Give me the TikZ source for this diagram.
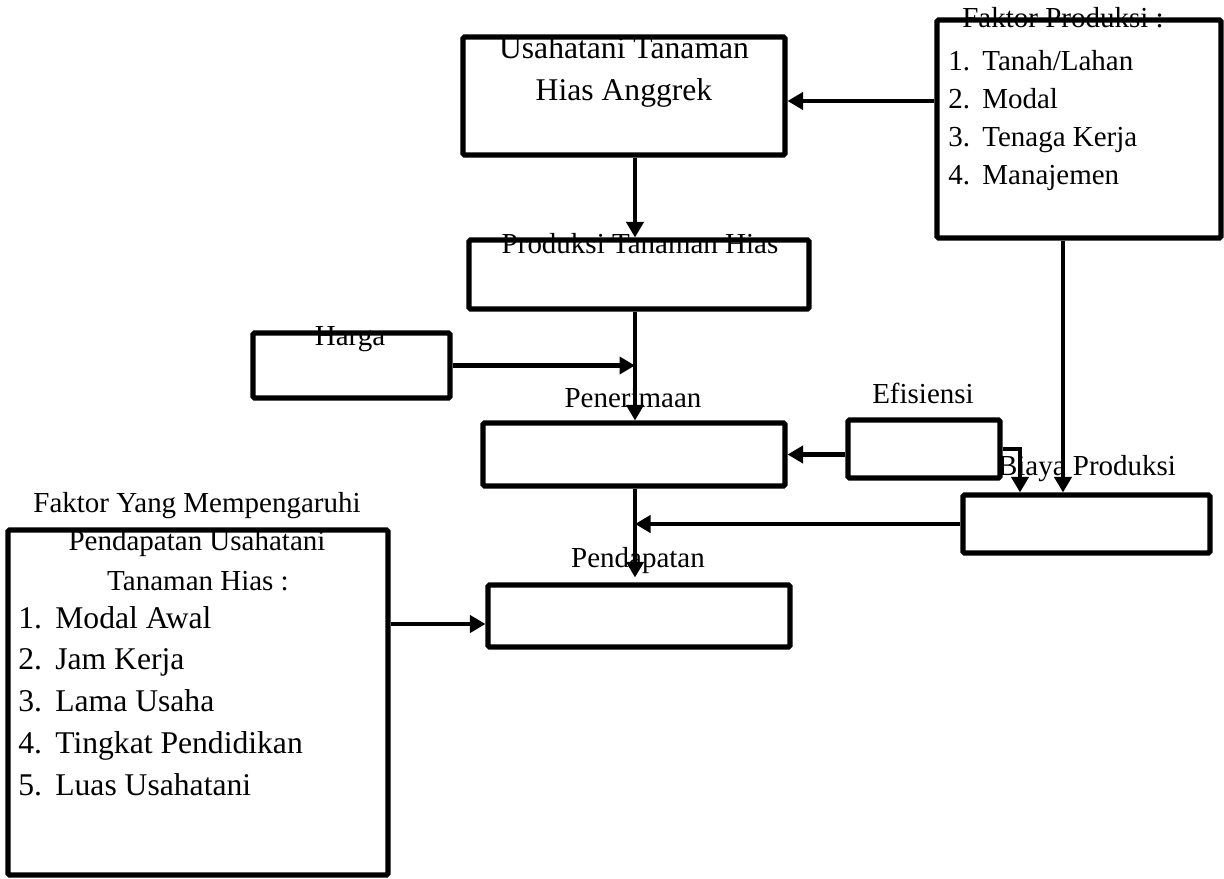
\documentclass[tikz,border=0pt]{standalone}
\usepackage{fontspec}
\setmainfont{Liberation Serif}
\usetikzlibrary{arrows.meta}

\begin{document}
\begin{tikzpicture}[x=0.02cm, y=-0.02cm,
    box/.style={draw, line width=2.9pt, rounded corners=0.8pt, inner sep=0pt},
    arr/.style={line width=2.5pt, -{Triangle[length=0.31cm, width=0.34cm]}},
    lbl/.style={anchor=base, inner sep=0pt, font=\fontsize{16.5}{20}\selectfont},
    big/.style={lbl, font=\fontsize{18}{22}\selectfont},
    item/.style={anchor=base west, inner sep=0pt, font=\fontsize{16.5}{20}\selectfont},
    bigitem/.style={item, font=\fontsize{18}{22}\selectfont}]
  \useasboundingbox (0,0) rectangle (1224,879);
  \node[big] (t1) at (624,58) {Usahatani Tanaman};
  \node[big] (t2) at (624,100) {Hias Anggrek};
  \node[lbl] (fpt) at (1063,28) {Faktor Produksi :};
  \foreach \t [count=\i] in {{Tanah/Lahan}, Modal, Tenaga Kerja, Manajemen} {
    \node[item] (fpn\i) at (948,{33.3+37.7*\i}) {\i.};
    \node[item] (fp\i) at (982,{33.3+37.7*\i}) {\t};
  }
  \node[lbl] (pt) at (640,253) {Produksi Tanaman Hias};
  \node[lbl] (ht) at (350,345) {Harga};
  \node[lbl] (tt) at (633,407) {Penerimaan};
  \node[lbl] (et) at (923,403) {Efisiensi};
  \node[lbl] (bt) at (1087,475) {Biaya Produksi};
  \node[lbl] (dt) at (638,567) {Pendapatan};
  \node[lbl] (ft1) at (197,512) {Faktor Yang Mempengaruhi};
  \node[lbl] (ft2) at (197,550) {Pendapatan Usahatani};
  \node[lbl] (ft3) at (198,590) {Tanaman Hias :};
  \foreach \t [count=\i] in {Modal Awal, Jam Kerja, Lama Usaha, Tingkat Pendidikan, Luas Usahatani} {
    \node[bigitem] (fn\i) at (18,{586.2+41.8*\i}) {\i.};
    \node[bigitem] (f\i) at (55,{586.2+41.8*\i}) {\t};
  }

  \node[box, minimum width=6.44cm, minimum height=2.36cm] (usaha) at (624,96) {};
  \node[box, minimum width=5.68cm, minimum height=4.36cm] (fprod) at (1079,129) {};
  \node[box, minimum width=6.8cm, minimum height=1.38cm] (prod) at (639,274.5) {};
  \node[box, minimum width=3.94cm, minimum height=1.3cm] (harga) at (351.5,365.5) {};
  \node[box, minimum width=6.04cm, minimum height=1.26cm] (terima) at (634,454.5) {};
  \node[box, minimum width=3.04cm, minimum height=1.16cm] (efis) at (924,449) {};
  \node[box, minimum width=4.94cm, minimum height=1.16cm] (biaya) at (1086.5,524) {};
  \node[box, minimum width=6.04cm, minimum height=1.24cm] (dapat) at (639,616) {};
  \node[box, minimum width=7.6cm, minimum height=6.9cm] (faktor) at (198,702.5) {};

  \coordinate (c) at (635,0);
  \coordinate (f) at (1063,0);
  \coordinate (e) at (1020,0);
  \coordinate (r1) at (0,101);
  \coordinate (r2) at (0,624);
  \draw[arr] (fprod.west |- r1) -- (usaha.east |- r1);
  \draw[arr] (usaha.south -| c) -- (prod.north -| c);
  \draw[arr] (prod.south -| c) -- (terima.north -| c);
  \draw[arr] (harga.east) -- (harga.east -| c);
  \draw[arr] (efis.west |- terima.east) -- (terima.east);
  \draw[arr] (terima.south -| c) -- ([yshift=0.1cm]dapat.north -| c);
  \draw[arr] (biaya.west) -- (biaya.west -| c);
  \draw[arr] (fprod.south -| f) -- (biaya.north -| f);
  \draw[arr] (efis.east) -| (biaya.north -| e);
  \draw[arr] (faktor.east |- r2) -- (dapat.west |- r2);
\end{tikzpicture}
\end{document}
